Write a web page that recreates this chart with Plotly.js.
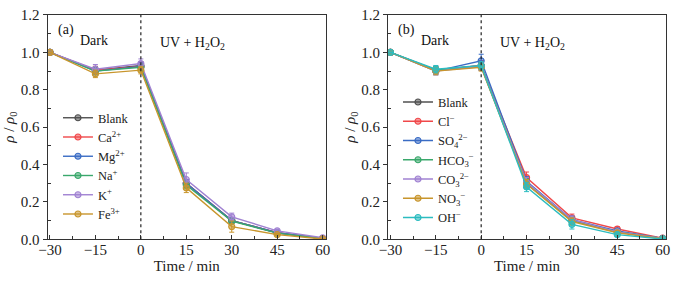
<!DOCTYPE html>
<html>
<head>
<meta charset="utf-8">
<script src="https://cdn.plot.ly/plotly-3.0.1.min.js"></script>
<style>html,body{margin:0;padding:0;background:#fff;}#chart{width:678px;height:283px;}</style>
</head>
<body>
<div id="chart"></div>
<script>
// ---- data ----
const times = [-30, -15, 0, 15, 30, 45, 60];
const xTicks = [-30, -15, 0, 15, 30, 45, 60];

// panel (a) cations
const namesA = ["Blank", "Ca<sup>2+</sup>", "Mg<sup>2+</sup>", "Na<sup>+</sup>", "K<sup>+</sup>", "Fe<sup>3+</sup>"];
const blankA = [1.0, 0.905, 0.930, 0.300, 0.100, 0.035, 0.004];
const caA    = [1.0, 0.905, 0.925, 0.300, 0.100, 0.035, 0.004];
const mgA    = [1.0, 0.900, 0.925, 0.300, 0.100, 0.035, 0.004];
const naA    = [1.0, 0.900, 0.920, 0.290, 0.098, 0.033, 0.004];
const kA     = [1.0, 0.910, 0.940, 0.320, 0.120, 0.045, 0.008];
const feA    = [1.0, 0.885, 0.905, 0.275, 0.068, 0.025, 0.002];
const errBlankA = [0, 0.020, 0.020, 0.020, 0.015, 0.006, 0.003];
const errCaA    = [0, 0.020, 0.020, 0.020, 0.015, 0.006, 0.003];
const errMgA    = [0, 0.020, 0.020, 0.020, 0.015, 0.006, 0.003];
const errNaA    = [0, 0.020, 0.020, 0.020, 0.015, 0.006, 0.003];
const errKA     = [0, 0.025, 0.025, 0.035, 0.020, 0.008, 0.004];
const errFeA    = [0, 0.020, 0.020, 0.025, 0.030, 0.006, 0.003];

// panel (b) anions
const namesB = ["Blank", "Cl<sup>−</sup>", "SO<sub>4</sub><sup>2−</sup>", "HCO<sub>3</sub><sup>−</sup>", "CO<sub>3</sub><sup>2−</sup>", "NO<sub>3</sub><sup>−</sup>", "OH<sup>−</sup>"];
const blankB = [1.0, 0.905, 0.930, 0.300, 0.100, 0.040, 0.004];
const clB    = [1.0, 0.905, 0.930, 0.330, 0.115, 0.055, 0.006];
const so4B   = [1.0, 0.900, 0.955, 0.310, 0.105, 0.045, 0.005];
const hco3B  = [1.0, 0.905, 0.925, 0.300, 0.100, 0.040, 0.004];
const co3B   = [1.0, 0.900, 0.925, 0.305, 0.105, 0.040, 0.004];
const no3B   = [1.0, 0.900, 0.920, 0.295, 0.095, 0.035, 0.003];
const ohB    = [1.0, 0.910, 0.930, 0.280, 0.080, 0.025, 0.002];
const errBlankB = [0, 0.020, 0.025, 0.025, 0.020, 0.010, 0.003];
const errClB    = [0, 0.020, 0.025, 0.030, 0.020, 0.012, 0.004];
const errSo4B   = [0, 0.020, 0.035, 0.025, 0.020, 0.010, 0.003];
const errHco3B  = [0, 0.020, 0.020, 0.025, 0.020, 0.010, 0.003];
const errCo3B   = [0, 0.020, 0.020, 0.025, 0.020, 0.010, 0.003];
const errNo3B   = [0, 0.020, 0.020, 0.025, 0.020, 0.010, 0.003];
const errOhB    = [0, 0.020, 0.020, 0.025, 0.025, 0.010, 0.003];

// ---- styles ----
const colorsA = ["#505050", "#f0484a", "#3a6cc4", "#3aa86c", "#a082d2", "#c8952c"];
const colorsB = ["#505050", "#f0484a", "#3a6cc4", "#3aa86c", "#a082d2", "#c8952c", "#2cbcc0"];
const FONT = "Liberation Serif, Times New Roman, serif";

function hexA(hex, a) {
  const n = parseInt(hex.slice(1), 16);
  return `rgba(${(n >> 16) & 255},${(n >> 8) & 255},${n & 255},${a})`;
}
function mk(name, y, err, color, xa, ya, legend) {
  return {
    type: "scatter", mode: "lines+markers", name: name, x: times, y: y,
    xaxis: xa, yaxis: ya, legend: legend,
    line: {color: color, width: 1.4},
    marker: {symbol: "circle", size: 6, color: hexA(color, 0.55), line: {color: color, width: 1.2}},
    error_y: {type: "data", array: err, visible: true, color: color, thickness: 1, width: 2.5}
  };
}

const seriesA = [blankA, caA, mgA, naA, kA, feA];
const errsA = [errBlankA, errCaA, errMgA, errNaA, errKA, errFeA];
const seriesB = [blankB, clB, so4B, hco3B, co3B, no3B, ohB];
const errsB = [errBlankB, errClB, errSo4B, errHco3B, errCo3B, errNo3B, errOhB];

const data = [];
seriesA.forEach((s, i) => data.push(mk(namesA[i], s, errsA[i], colorsA[i], "x", "y", "legend")));
seriesB.forEach((s, i) => data.push(mk(namesB[i], s, errsB[i], colorsB[i], "x2", "y2", "legend2")));

function xax(domain, anchor) {
  return {
    domain: domain, anchor: anchor, range: [-30.8, 61.1],
    tickvals: xTicks, ticktext: xTicks.map(v => v < 0 ? "−" + Math.abs(v) : String(v)),
    ticks: "inside", ticklen: 4, tickcolor: "#333", tickwidth: 1, ticklabelstandoff: -3,
    minor: {tickvals: [-22.5, -7.5, 7.5, 22.5, 37.5, 52.5], ticks: "inside", ticklen: 3, tickcolor: "#333"},
    showline: true, linecolor: "#333", linewidth: 1, mirror: true,
    showgrid: false, zeroline: false,
    tickfont: {family: FONT, size: 15, color: "#222"},
    title: {text: "Time / min", font: {family: FONT, size: 15, color: "#222"}, standoff: 1}
  };
}
function yax(anchor) {
  return {
    domain: [0.1544, 0.947], anchor: anchor, range: [0, 1.2],
    tickvals: [0, 0.2, 0.4, 0.6, 0.8, 1.0, 1.2], ticktext: ["0.0", "0.2", "0.4", "0.6", "0.8", "1.0", "1.2"],
    ticks: "outside", ticklen: 4, tickcolor: "#333", tickwidth: 1,
    minor: {tickvals: [0.1, 0.3, 0.5, 0.7, 0.9, 1.1], ticks: "inside", ticklen: 3, tickcolor: "#333"},
    showline: true, linecolor: "#333", linewidth: 1, mirror: true,
    showgrid: false, zeroline: false,
    tickfont: {family: FONT, size: 15, color: "#222"},
    title: {text: "<i>ρ</i> / <i>ρ</i><sub>0</sub>", font: {family: FONT, size: 15, color: "#222"}, standoff: 2}
  };
}

const annFont = {family: FONT, size: 14, color: "#111"};
function panelAnn(xref, yref, label) {
  const base = {xref: xref + " domain", yref: yref + " domain", showarrow: false, font: annFont, xanchor: "center", yanchor: "middle"};
  return [
    Object.assign({}, base, {x: 0.066, y: 0.935, text: label}),
    Object.assign({}, base, {x: 0.168, y: 0.888, text: "Dark"}),
    Object.assign({}, base, {x: 0.52, y: 0.875, text: "UV + H<sub>2</sub>O<sub>2</sub>"})
  ];
}

const layout = {
  width: 678, height: 283,
  margin: {l: 0, r: 0, t: 0, b: 0},
  paper_bgcolor: "#fff", plot_bgcolor: "#fff",
  font: {family: FONT, color: "#222"},
  xaxis: xax([0.0701, 0.4808], "y"),
  yaxis: yax("x"),
  xaxis2: xax([0.5723, 0.9823], "y2"),
  yaxis2: yax("x2"),
  legend: {x: 0.0855, y: 0.413, xanchor: "left", yanchor: "middle", bgcolor: "rgba(0,0,0,0)",
           font: {family: FONT, size: 12.5, color: "#222"}, itemwidth: 30, tracegroupgap: 0},
  legend2: {x: 0.587, y: 0.435, xanchor: "left", yanchor: "middle", bgcolor: "rgba(0,0,0,0)",
            font: {family: FONT, size: 12.5, color: "#222"}, itemwidth: 30, tracegroupgap: 0},
  shapes: [
    {type: "line", xref: "x", yref: "y domain", x0: 0, x1: 0, y0: 0, y1: 1, line: {color: "#222", width: 1.2, dash: "dot"}},
    {type: "line", xref: "x2", yref: "y2 domain", x0: 0, x1: 0, y0: 0, y1: 1, line: {color: "#222", width: 1.2, dash: "dot"}}
  ],
  annotations: [].concat(panelAnn("x", "y", "(a)"), panelAnn("x2", "y2", "(b)"))
};

Plotly.newPlot("chart", data, layout, {staticPlot: true, displayModeBar: false});
</script>
</body>
</html>
